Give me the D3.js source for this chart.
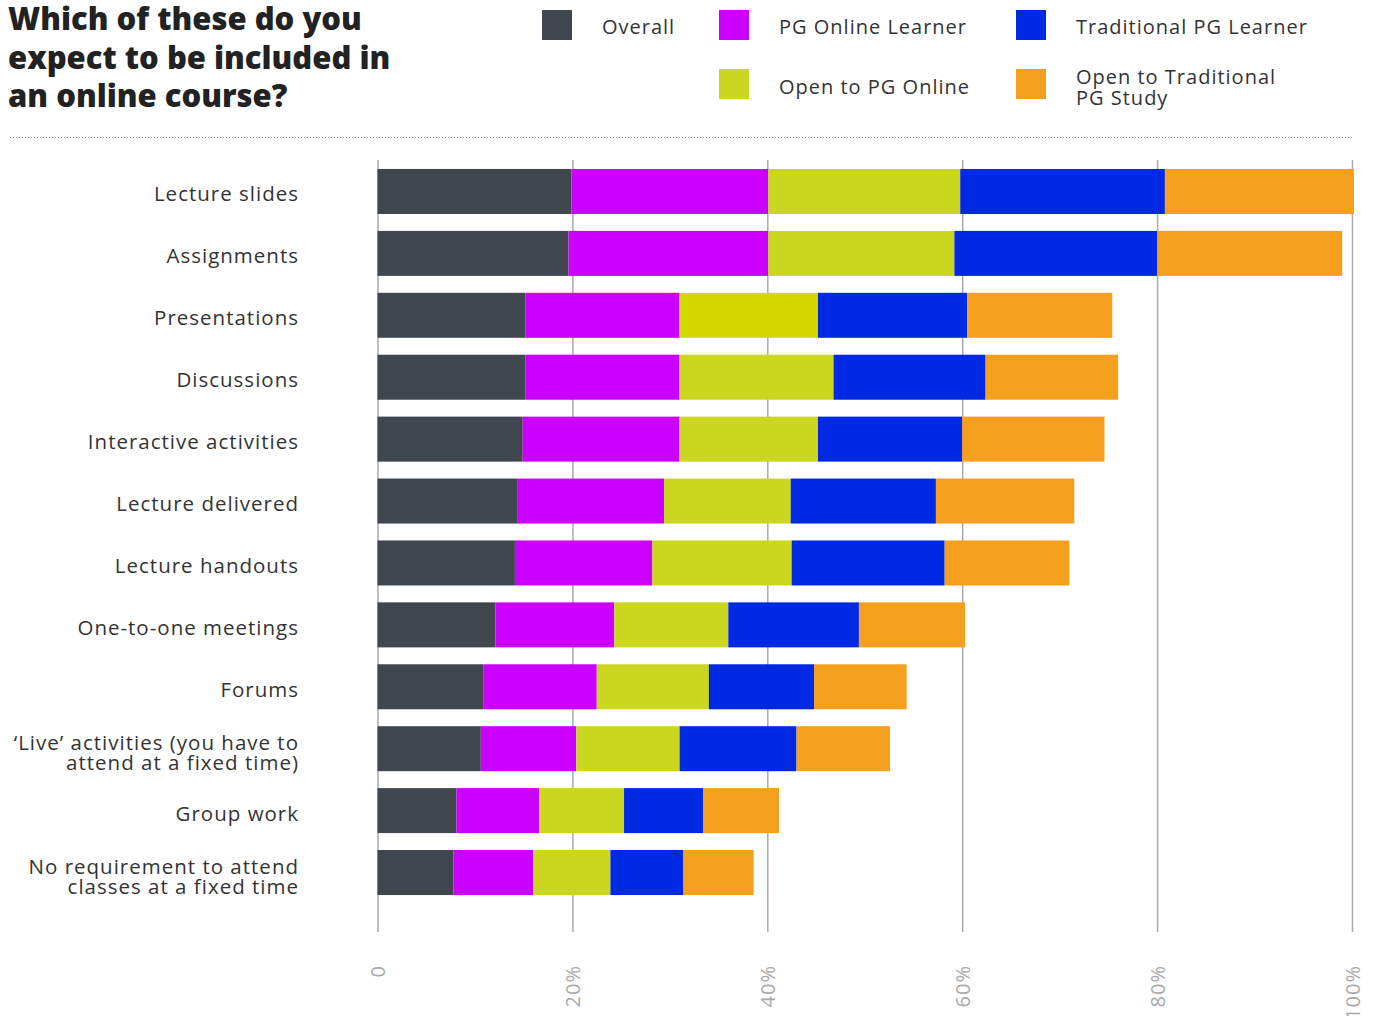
<!DOCTYPE html>
<html><head><meta charset="utf-8">
<script src="https://cdn.jsdelivr.net/npm/d3@7"></script>
<style>
html,body{margin:0;padding:0;background:#fff;}
svg{display:block;font-family:"Open Sans",sans-serif;}
</style></head>
<body><svg id="chart" width="1375" height="1016"></svg>
<script>
const categories = ["Lecture slides","Assignments","Presentations","Discussions","Interactive activities","Lecture delivered","Lecture handouts","One-to-one meetings","Forums","\u2018Live\u2019 activities (you have to|attend at a fixed time)","Group work","No requirement to attend|classes at a fixed time"];
const seriesNames = ["Overall","PG Online Learner","Open to PG Online","Traditional PG Learner","Open to Traditional PG Study"];
const overall        = [19.9,19.6,15.2,15.2,14.9,14.4,14.1,12.1,10.9,10.6,8.1,7.8];
const pgOnline       = [20.2,20.5,15.8,15.8,16.1,15.0,14.1,12.2,11.6,9.8,8.5,8.2];
const openPgOnline   = [19.7,19.1,14.2,15.8,14.2,13.0,14.3,11.7,11.5,10.6,8.7,7.9];
const traditional    = [21.0,20.8,15.3,15.6,14.8,14.9,15.7,13.4,10.8,12.0,8.1,7.5];
const openTraditional= [19.4,19.0,14.9,13.6,14.6,14.2,12.8,10.9,9.5,9.6,7.8,7.2];
const tickValues = [0,20,40,60,80,100];
const tickLabels = ["0","20%","40%","60%","80%","100%"];

const colors = ["#40474f","#cc00ff","#cbd71e","#0029e3","#f59f1f"];
const svg = d3.select("#chart");

// title
const title = svg.append("text").attr("x",8).attr("font-weight",800).attr("font-size",31).attr("fill","#222");
["Which of these do you","expect to be included in","an online course?"].forEach((t,i)=>{
  title.append("tspan").attr("x",8).attr("y",30+i*38.5).text(t);
});

// dotted separator
svg.append("line").attr("x1",10).attr("x2",1354).attr("y1",137.5).attr("y2",137.5)
  .attr("stroke","#888").attr("stroke-width",1).attr("stroke-dasharray","1,2");

// legend
const legendPos = [
  {x:542,y:10,ty:[34]},
  {x:719,y:10,ty:[34]},
  {x:719,y:69,ty:[94]},
  {x:1016,y:10,ty:[34]},
  {x:1016,y:69,ty:[84,105]}
];
const legendLabels = [["Overall"],["PG Online Learner"],["Open to PG Online"],["Traditional PG Learner"],["Open to Traditional","PG Study"]];
seriesNames.forEach((s,i)=>{
  const p = legendPos[i];
  svg.append("rect").attr("x",p.x).attr("y",p.y).attr("width",30).attr("height",30).attr("fill",colors[i]);
  const t = svg.append("text").attr("font-size",20).attr("fill","#333").attr("letter-spacing",1.0);
  legendLabels[i].forEach((ln,j)=>t.append("tspan").attr("x",p.x+60).attr("y",p.ty[j]).text(ln));
});

// scales
const x = d3.scaleLinear().domain([0,100]).range([377.5,1352]);
const y = d3.scaleBand().domain(categories).range([160.5,903.5]).paddingInner(0.273).paddingOuter(0.137);

// grid
const gridG = svg.append("g").attr("transform","translate(0,932)")
  .call(d3.axisBottom(x).tickValues(tickValues).tickSize(-772).tickFormat((d,i)=>tickLabels[i]));
gridG.select(".domain").remove();
gridG.selectAll(".tick line").attr("stroke","#aaa").attr("stroke-width",1.5);
gridG.selectAll(".tick text")
  .attr("font-family","Open Sans, sans-serif").attr("font-size",20).attr("fill","#aaa").attr("letter-spacing",1)
  .attr("transform","rotate(-90)").attr("text-anchor","end")
  .attr("x",-33).attr("y",0).attr("dy","0.35em");

// stacked data
const rows = categories.map((c,i)=>({cat:c, v:[overall[i],pgOnline[i],openPgOnline[i],traditional[i],openTraditional[i]]}));
const keys = [0,1,2,3,4];
const stack = d3.stack().keys(keys).value((d,k)=>d.v[k]);
const series = stack(rows);

svg.append("g").selectAll("g").data(series).join("g")
  .attr("fill",(d,i)=>colors[i])
  .selectAll("rect").data(d=>d).join("rect")
  .attr("x",d=>x(d[0])).attr("width",d=>x(d[1])-x(d[0]))
  .attr("y",d=>y(d.data.cat)).attr("height",y.bandwidth())
  .attr("fill",function(d){
    const k = d3.select(this.parentNode).datum().key;
    return (k===2 && d.data.cat==="Presentations") ? "#d4d800" : null;
  });

// category labels
const lab = svg.append("g");
categories.forEach(c=>{
  const lines = c.split("|");
  const cy = y(c)+y.bandwidth()/2;
  const t = lab.append("text").attr("font-size",20.5).attr("fill","#333").attr("text-anchor","end").attr("letter-spacing",1.0);
  if(lines.length===1){
    t.append("tspan").attr("x",299).attr("y",cy+10).text(lines[0]);
  } else {
    t.append("tspan").attr("x",299).attr("y",cy+1).text(lines[0]);
    t.append("tspan").attr("x",299).attr("y",cy+21).text(lines[1]);
  }
});
</script></body></html>
